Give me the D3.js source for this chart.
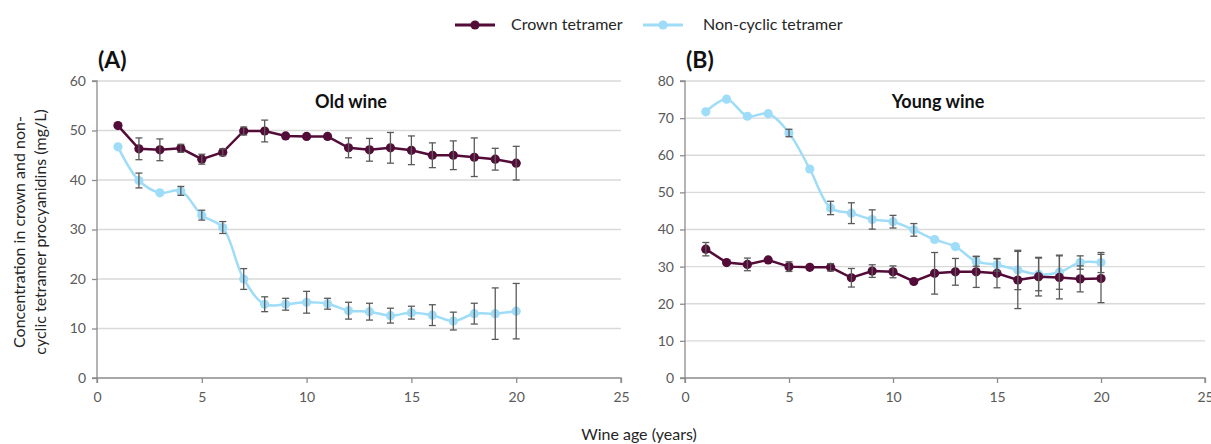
<!DOCTYPE html>
<html><head><meta charset="utf-8">
<script src="https://cdn.jsdelivr.net/npm/d3@7"></script>
<style>
html,body{margin:0;padding:0;background:#fff;}
svg{display:block;font-family:Lato,"Noto Sans",sans-serif;}
</style></head>
<body><svg id="chart" width="1211" height="444"></svg>
<script>
const years = d3.range(1, 21);
const seriesNames = ["Crown tetramer", "Non-cyclic tetramer"];
const seriesColors = ["#530b38", "#9fdcf8"];
// Panel A: Old wine
const oldCrown = [51.0,46.3,46.1,46.4,44.2,45.6,49.9,49.9,48.9,48.8,48.8,46.5,46.1,46.5,46.0,45.0,45.0,44.6,44.2,43.4];
const oldCrownErr = [0.5,2.2,2.2,0.8,1.0,0.7,0.8,2.2,0.6,0.6,0.6,2.0,2.3,3.1,2.9,2.5,2.9,3.9,2.2,3.4];
const oldNon = [46.7,39.9,37.4,37.8,32.9,30.4,20.0,14.9,14.9,15.3,15.0,13.6,13.4,12.6,13.2,12.7,11.5,13.0,13.0,13.5];
const oldNonErr = [0.5,1.5,0.5,0.9,1.0,1.2,2.1,1.5,1.2,2.2,1.1,1.7,1.7,1.5,1.3,2.1,1.8,2.1,5.2,5.6];
// Panel B: Young wine
const youngCrown = [34.7,31.1,30.6,31.8,30.0,29.8,29.8,27.0,28.8,28.6,26.0,28.2,28.6,28.6,28.2,26.4,27.3,27.1,26.7,26.8];
const youngCrownErr = [1.8,0.5,1.7,0.5,1.3,0.5,1.0,2.5,1.7,1.6,0.5,5.6,3.6,4.2,3.9,7.7,5.2,5.8,3.5,6.5];
const youngNon = [71.7,75.1,70.5,71.2,66.0,56.3,45.8,44.4,42.7,42.1,39.9,37.3,35.4,31.4,30.5,29.1,27.9,28.5,31.1,31.1];
const youngNonErr = [0.5,0.5,0.5,0.5,1.0,0.6,1.8,2.8,2.6,1.7,1.7,0.6,0.6,1.3,1.7,5.3,4.4,4.6,1.8,2.7];
const xTicks = [0,5,10,15,20,25];
const yTicksA = [0,10,20,30,40,50,60];
const yTicksB = [0,10,20,30,40,50,60,70,80];

const svg = d3.select("#chart");
const tickColor = "#595959", axisColor = "#8c8c8c", gridColor = "#d9d9d9";

function panel(opts){
  const x = d3.scaleLinear().domain([0,25]).range([opts.x0, opts.x1]);
  const y = d3.scaleLinear().domain([0, opts.ymax]).range([378, 81]);
  const g = svg.append("g");
  g.selectAll(".grid").data(opts.yTicks.filter(d=>d>0)).enter().append("line")
    .attr("x1", opts.x0).attr("x2", opts.x1).attr("y1", d=>y(d)).attr("y2", d=>y(d))
    .attr("stroke", gridColor).attr("stroke-width", 1.3);
  const ya = g.append("g").attr("transform", `translate(${opts.x0},0)`)
    .call(d3.axisLeft(y).tickValues(opts.yTicks).tickSize(5).tickPadding(6));
  const xa = g.append("g").attr("transform", `translate(0,378)`)
    .call(d3.axisBottom(x).tickValues(xTicks).tickSize(5).tickPadding(9));
  [ya, xa].forEach(a=>{
    a.select(".domain").attr("stroke", axisColor).attr("stroke-width",1.3);
    a.selectAll(".tick line").attr("stroke", axisColor).attr("stroke-width",1.3);
    a.selectAll(".tick text").attr("fill", tickColor).style("font-size","14px")
      .style("font-family","Lato,sans-serif");
  });
  ya.select(".domain").attr("d", `M-5,${y(0)}H0V${y(opts.ymax)}H-5`);
  xa.select(".domain").attr("d", `M${opts.x0},5V0H${opts.x1}V5`);

  const series = [
    {v: opts.crown, e: opts.crownErr, c: seriesColors[0], curve: d3.curveLinear},
    {v: opts.non, e: opts.nonErr, c: seriesColors[1], curve: d3.curveCatmullRom.alpha(0.5)}
  ];
  [series[1], series[0]].forEach(s=>{
    const pts = years.map((yr,i)=>({x:yr, v:s.v[i], e:s.e[i]}));
    g.append("path").datum(pts)
      .attr("d", d3.line().x(d=>x(d.x)).y(d=>y(d.v)).curve(s.curve))
      .attr("fill","none").attr("stroke", s.c).attr("stroke-width", 2.5);
    g.selectAll(null).data(pts).enter().append("circle")
      .attr("cx", d=>x(d.x)).attr("cy", d=>y(d.v)).attr("r", 4.6).attr("fill", s.c);
  });
  series.forEach(s=>{
    const pts = years.map((yr,i)=>({x:yr, v:s.v[i], e:s.e[i]}));
    const eb = g.append("g").attr("stroke","#5a5a5a").attr("stroke-width",1.3);
    pts.filter(d=>d.e>0.65).forEach(d=>{
      const xx = x(d.x), t = y(d.v+d.e), b = y(d.v-d.e);
      eb.append("line").attr("x1",xx).attr("x2",xx).attr("y1",t).attr("y2",b);
      eb.append("line").attr("x1",xx-3.5).attr("x2",xx+3.5).attr("y1",t).attr("y2",t);
      eb.append("line").attr("x1",xx-3.5).attr("x2",xx+3.5).attr("y1",b).attr("y2",b);
    });
  });
  svg.append("text").attr("x", opts.x0+1).attr("y", 68).text(opts.letter)
    .attr("font-size","23px").attr("font-weight","bold").attr("fill","#111");
  svg.append("text").attr("x", opts.titleX).attr("y", 108).attr("text-anchor","middle").text(opts.title)
    .attr("font-size","18px").attr("font-weight","bold").attr("fill","#111");
}

panel({x0:97, x1:621, ymax:60, yTicks:yTicksA, crown:oldCrown, crownErr:oldCrownErr, non:oldNon, nonErr:oldNonErr,
  letter:"(A)", title:"Old wine", titleX:351});
panel({x0:685, x1:1205, ymax:80, yTicks:yTicksB, crown:youngCrown, crownErr:youngCrownErr, non:youngNon, nonErr:youngNonErr,
  letter:"(B)", title:"Young wine", titleX:938});

const leg = svg.append("g");
const legItems = [{x:455, tx:511}, {x:643, tx:703}];
legItems.forEach((it,i)=>{
  leg.append("line").attr("x1",it.x).attr("x2",it.x+40).attr("y1",25).attr("y2",25)
    .attr("stroke",seriesColors[i]).attr("stroke-width",3);
  leg.append("circle").attr("cx",it.x+20).attr("cy",25).attr("r",4.6).attr("fill",seriesColors[i]);
  leg.append("text").attr("x",it.tx).attr("y",30).text(seriesNames[i])
    .attr("font-size","16px").attr("fill","#262626");
});

svg.append("text").attr("x",639).attr("y",440).attr("text-anchor","middle").text("Wine age (years)")
  .attr("font-size","16px").attr("fill","#262626");
const yl = svg.append("text").attr("transform","translate(25,232) rotate(-90)").attr("text-anchor","middle")
  .attr("font-size","16px").attr("fill","#262626");
yl.append("tspan").attr("x",0).attr("dy",0).text("Concentration in crown and non-");
yl.append("tspan").attr("x",0).attr("dy",21).text("cyclic tetramer procyanidins (mg/L)");
</script></body></html>
